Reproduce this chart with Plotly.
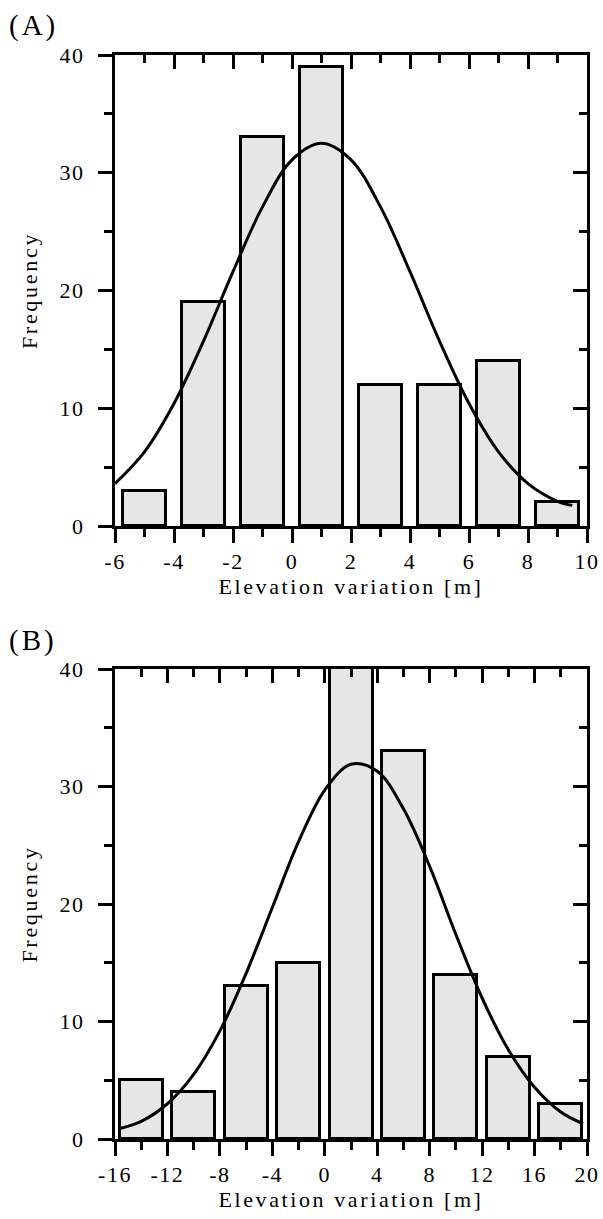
import plotly.graph_objects as go

# ---------------- data ----------------
# Panel A
a_centers = [-5, -3, -1, 1, 3, 5, 7, 9]
a_counts = [3, 19, 33, 39, 12, 12, 14, 2]
a_curve_x = [-6, -5, -4, -3, -2, -1, 0, 1, 2, 3, 4, 5, 6, 7, 8, 9, 9.5]
a_curve_y = [3.6, 6.3, 10.4, 15.7, 21.6, 27.1, 31.1, 32.5, 31.1, 27.1, 21.6, 15.7, 10.4, 6.3, 3.6, 2.1, 1.75]
a_xticks = [-6, -4, -2, 0, 2, 4, 6, 8, 10]

# Panel B
b_centers = [-14, -10, -6, -2, 2, 6, 10, 14, 18]
b_counts = [5, 4, 13, 15, 42, 33, 14, 7, 3]
b_curve_x = [-15.6, -14, -12, -10, -8, -6, -4, -2, 0, 2, 4, 6, 8, 10, 12, 14, 16, 18, 19.7]
b_curve_y = [0.9, 1.5, 3.0, 5.5, 9.2, 14.1, 19.7, 25.3, 29.7, 31.9, 31.3, 28.1, 23.2, 17.4, 12.0, 7.6, 4.4, 2.3, 1.3]
b_xticks = [-16, -12, -8, -4, 0, 4, 8, 12, 16, 20]

y_ticks = [0, 10, 20, 30, 40]

FONT = "Liberation Serif"
BAR_FILL = "#e6e6e6"
LW = 3


def spaced(text, px):
    return f"<span style='letter-spacing:{px}px'>{text}</span>"


fig = go.Figure()

fig.add_trace(go.Bar(x=a_centers, y=a_counts, width=1.45, xaxis="x", yaxis="y",
                     marker=dict(color=BAR_FILL, line=dict(color="black", width=LW)),
                     showlegend=False, hoverinfo="skip"))
fig.add_trace(go.Scatter(x=a_curve_x, y=a_curve_y, mode="lines", xaxis="x", yaxis="y",
                         line=dict(color="black", width=LW, shape="spline", smoothing=1.0),
                         showlegend=False, hoverinfo="skip"))
fig.add_trace(go.Bar(x=b_centers, y=b_counts, width=3.28, xaxis="x2", yaxis="y2",
                     marker=dict(color=BAR_FILL, line=dict(color="black", width=LW)),
                     showlegend=False, hoverinfo="skip"))
fig.add_trace(go.Scatter(x=b_curve_x, y=b_curve_y, mode="lines", xaxis="x2", yaxis="y2",
                         line=dict(color="black", width=LW, shape="spline", smoothing=1.0),
                         showlegend=False, hoverinfo="skip"))

W, H = 603, 1219
xdom = [115 / W, 587 / W]
ydomA = [(H - 526) / H, (H - 55) / H]
ydomB = [(H - 1139) / H, (H - 669) / H]

tickfont = dict(family=FONT, size=22, color="black")
titlefont = dict(family=FONT, size=22, color="black")


def xax(rng, ticks, minor, anchor, domain):
    return dict(domain=domain, range=rng, anchor=anchor, automargin=False,
                tickvals=ticks, ticktext=[spaced(t, 1.5) for t in ticks],
                ticks="outside", ticklen=14, tickwidth=LW, tickcolor="black",
                minor=dict(dtick=minor, tick0=0, ticks="outside", ticklen=8, tickwidth=LW, tickcolor="black"),
                showline=True, linewidth=LW, linecolor="black", mirror=True,
                showgrid=False, zeroline=False, tickfont=tickfont, fixedrange=True,
                title=dict(text=spaced("Elevation variation [m]", 2.6), font=titlefont, standoff=6))


def yax(anchor, domain):
    return dict(domain=domain, range=[0, 40], anchor=anchor, automargin=False,
                tickvals=y_ticks, ticktext=[spaced(t, 1.5) for t in y_ticks],
                ticklabelstandoff=9,
                ticks="outside", ticklen=14, tickwidth=LW, tickcolor="black",
                minor=dict(dtick=5, tick0=0, ticks="outside", ticklen=8, tickwidth=LW, tickcolor="black"),
                showline=True, linewidth=LW, linecolor="black", mirror=True,
                showgrid=False, zeroline=False, tickfont=tickfont, fixedrange=True,
                title=dict(text=spaced("Frequency", 2.7), font=titlefont, standoff=16))


def xtop(rng, ticks, minor, overlay, anchor, domain):
    return dict(domain=domain, range=rng, overlaying=overlay, anchor=anchor, side="top",
                automargin=False, tickvals=ticks, showticklabels=False,
                ticks="inside", ticklen=14, tickwidth=LW, tickcolor="black",
                minor=dict(dtick=minor, tick0=0, ticks="inside", ticklen=8, tickwidth=LW, tickcolor="black"),
                showline=False, showgrid=False, zeroline=False, fixedrange=True)


def yright(overlay, anchor, domain):
    return dict(domain=domain, range=[0, 40], overlaying=overlay, anchor=anchor, side="right",
                automargin=False, tickvals=y_ticks, showticklabels=False,
                ticks="inside", ticklen=14, tickwidth=LW, tickcolor="black",
                minor=dict(dtick=5, tick0=0, ticks="inside", ticklen=8, tickwidth=LW, tickcolor="black"),
                showline=False, showgrid=False, zeroline=False, fixedrange=True)


# invisible helper traces so the overlay (top/right tick) axes get drawn
fig.add_trace(go.Scatter(x=[a_xticks[0]], y=[y_ticks[0]], xaxis="x3", yaxis="y3", mode="markers",
                         marker=dict(opacity=0), showlegend=False, hoverinfo="skip"))
fig.add_trace(go.Scatter(x=[b_xticks[0]], y=[y_ticks[0]], xaxis="x4", yaxis="y4", mode="markers",
                         marker=dict(opacity=0), showlegend=False, hoverinfo="skip"))

fig.update_layout(
    width=W, height=H,
    margin=dict(l=0, r=0, t=0, b=0),
    paper_bgcolor="white", plot_bgcolor="white",
    bargap=0,
    xaxis=xax([-6, 10], a_xticks, 1, "y", xdom),
    yaxis=yax("x", ydomA),
    xaxis2=xax([-16, 20], b_xticks, 2, "y2", xdom),
    yaxis2=yax("x2", ydomB),
    xaxis3=xtop([-6, 10], a_xticks, 1, "x", "y3", xdom),
    yaxis3=yright("y", "x3", ydomA),
    xaxis4=xtop([-16, 20], b_xticks, 2, "x2", "y4", xdom),
    yaxis4=yright("y2", "x4", ydomB),
    annotations=[
        dict(text=spaced("(A)", 3), x=7 / W, y=1 - 26 / H, xref="paper", yref="paper",
             xanchor="left", yanchor="middle", showarrow=False,
             font=dict(family=FONT, size=29, color="black")),
        dict(text=spaced("(B)", 3), x=7 / W, y=1 - 640 / H, xref="paper", yref="paper",
             xanchor="left", yanchor="middle", showarrow=False,
             font=dict(family=FONT, size=29, color="black")),
    ],
)

fig.write_html("out.html")
